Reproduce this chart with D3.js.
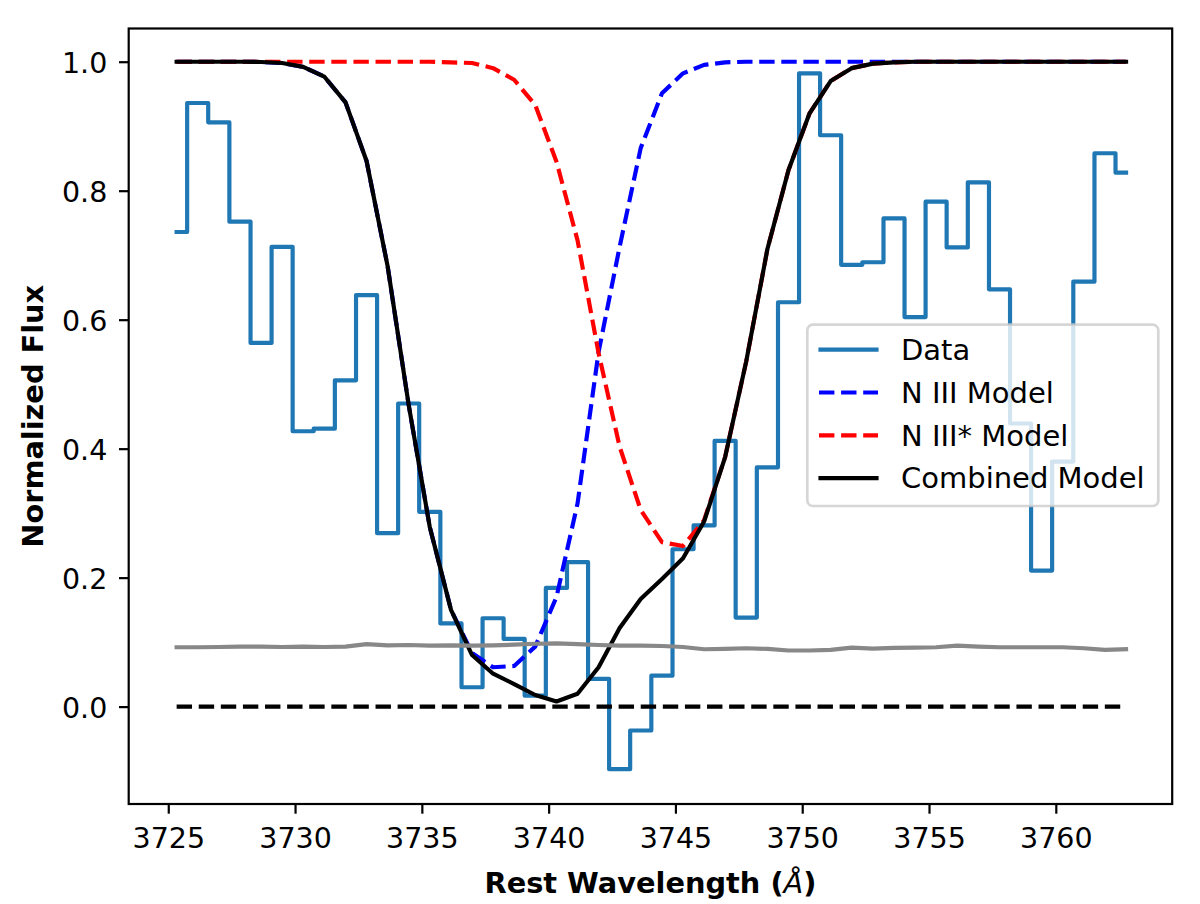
<!DOCTYPE html>
<html>
<head>
<meta charset="utf-8">
<script src="https://cdn.jsdelivr.net/npm/d3@7/dist/d3.min.js"></script>
<style>
    body { margin: 0; background: #ffffff; }
    svg { display: block; font-family: "DejaVu Sans", sans-serif; }
</style>
</head>
<body>
<div id="chart"></div>
<script>

// values
// values

var wavelength = [
    3725.33, 3726.16, 3726.99, 3727.83, 3728.66, 3729.49, 3730.32, 3731.15, 3731.99, 3732.82,
    3733.65, 3734.48, 3735.31, 3736.15, 3736.98, 3737.81, 3738.64, 3739.47, 3740.31, 3741.14,
    3741.97, 3742.80, 3743.63, 3744.47, 3745.30, 3746.13, 3746.96, 3747.79, 3748.63, 3749.46,
    3750.29, 3751.12, 3751.95, 3752.79, 3753.62, 3754.45, 3755.28, 3756.11, 3756.95, 3757.78,
    3758.61, 3759.44, 3760.27, 3761.11, 3761.94, 3762.77];

var fluxData = [
    0.736, 0.936, 0.906, 0.752, 0.564, 0.713, 0.427, 0.431, 0.506, 0.638,
    0.269, 0.470, 0.302, 0.129, 0.030, 0.137, 0.105, 0.017, 0.184, 0.224,
    0.043, -0.097, -0.037, 0.048, 0.244, 0.281, 0.412, 0.138, 0.371, 0.627,
    0.982, 0.886, 0.685, 0.689, 0.757, 0.604, 0.783, 0.712, 0.813, 0.647,
    0.439, 0.211, 0.380, 0.659, 0.858, 0.828];

var nIIIModel = [
    1.000, 1.000, 1.000, 1.000, 0.9995, 0.998, 0.992, 0.977, 0.937, 0.846,
    0.683, 0.468, 0.279, 0.150, 0.083, 0.061, 0.063, 0.093, 0.170, 0.315,
    0.550, 0.713, 0.866, 0.951, 0.982, 0.995, 0.999, 1.000, 1.000, 1.000,
    1.000, 1.000, 1.000, 1.000, 1.000, 1.000, 1.000, 1.000, 1.000, 1.000,
    1.000, 1.000, 1.000, 1.000, 1.000, 1.000];

var nIIIStarModel = [
    1.000, 1.000, 1.000, 1.000, 1.000, 1.000, 1.000, 1.000, 1.000, 1.000,
    1.000, 1.000, 1.000, 0.999, 0.998, 0.990, 0.972, 0.933, 0.845, 0.723,
    0.548, 0.403, 0.305, 0.255, 0.249, 0.289, 0.387, 0.535, 0.710, 0.832,
    0.920, 0.970, 0.990, 0.997, 0.999, 1.000, 1.000, 1.000, 1.000, 1.000,
    1.000, 1.000, 1.000, 1.000, 1.000, 1.000];

var combinedModel = [
    1.000, 1.000, 1.000, 1.000, 0.9995, 0.998, 0.992, 0.977, 0.937, 0.846,
    0.683, 0.468, 0.279, 0.150, 0.080, 0.051, 0.035, 0.018, 0.008, 0.020,
    0.061, 0.122, 0.167, 0.198, 0.230, 0.287, 0.387, 0.535, 0.710, 0.832,
    0.920, 0.970, 0.990, 0.997, 0.999, 1.000, 1.000, 1.000, 1.000, 1.000,
    1.000, 1.000, 1.000, 1.000, 1.000, 1.000];

var errorSpec = [
    0.092, 0.092, 0.0925, 0.093, 0.093, 0.0925, 0.093, 0.0925, 0.093, 0.097,
    0.095, 0.0955, 0.0945, 0.095, 0.0945, 0.095, 0.096, 0.0975, 0.098, 0.097,
    0.0955, 0.0945, 0.0945, 0.094, 0.0925, 0.089, 0.0895, 0.0905, 0.0895, 0.087,
    0.087, 0.088, 0.0915, 0.090, 0.091, 0.0915, 0.092, 0.0945, 0.093, 0.092,
    0.092, 0.092, 0.092, 0.0905, 0.088, 0.089];

var zeroLevel = [0, 0];

var xTicks = [3725, 3730, 3735, 3740, 3745, 3750, 3755, 3760];
var yTicks = [0.0, 0.2, 0.4, 0.6, 0.8, 1.0];

var xLimits = [3723.44, 3764.59];
var yLimits = [-0.151, 1.0515];

var legendLabels = ["Data", "N III Model", "N III* Model", "Combined Model"];

// chart
// chart

function spectrumChart()
{
    var margin = {top: 28.5, right: 27.8, bottom: 100, left: 128.7},
        width = 1200 - margin.left - margin.right,
        height = 904 - margin.top - margin.bottom,
        tickFont = 28.5,
        labelFont = 28.8,
        legendFont = 29,
        lineWidth = 4.17,
        dash = "15.4,6.7";

    var svg = d3.select("#chart").append("svg")
        .attr("width", 1200)
        .attr("height", 904);

    var g = svg.append("g")
        .attr("transform", "translate(" + margin.left + "," + margin.top + ")");

    var x = d3.scaleLinear().domain(xLimits).range([0, width]);
    var y = d3.scaleLinear().domain(yLimits).range([height, 0]);

    function series(values)
    {
        return values.map(function(v, i) { return [wavelength[i], v]; });
    }

    var line = d3.line()
        .x(function(d) { return x(d[0]); })
        .y(function(d) { return y(d[1]); });

    var stepLine = d3.line()
        .curve(d3.curveStep)
        .x(function(d) { return x(d[0]); })
        .y(function(d) { return y(d[1]); });

    // data as steps
    g.append("path")
        .attr("d", stepLine(series(fluxData)))
        .attr("fill", "none")
        .attr("stroke", "#1f77b4")
        .attr("stroke-width", lineWidth)
        .attr("stroke-linejoin", "round")
        .attr("stroke-linecap", "square");

    // models
    g.append("path")
        .attr("d", line(series(nIIIModel)))
        .attr("fill", "none")
        .attr("stroke", "#0000ff")
        .attr("stroke-width", lineWidth)
        .attr("stroke-dasharray", dash)
        .attr("stroke-linejoin", "round");

    g.append("path")
        .attr("d", line(series(nIIIStarModel)))
        .attr("fill", "none")
        .attr("stroke", "#ff0000")
        .attr("stroke-width", lineWidth)
        .attr("stroke-dasharray", dash)
        .attr("stroke-linejoin", "round");

    g.append("path")
        .attr("d", line(series(combinedModel)))
        .attr("fill", "none")
        .attr("stroke", "#000000")
        .attr("stroke-width", lineWidth)
        .attr("stroke-linejoin", "round")
        .attr("stroke-linecap", "square");

    // error spectrum and zero level
    g.append("path")
        .attr("d", line(series(errorSpec)))
        .attr("fill", "none")
        .attr("stroke", "#888888")
        .attr("stroke-width", lineWidth)
        .attr("stroke-linejoin", "round")
        .attr("stroke-linecap", "square");

    g.append("path")
        .attr("d", line([[wavelength[0], zeroLevel[0]], [wavelength[wavelength.length - 1], zeroLevel[1]]]))
        .attr("fill", "none")
        .attr("stroke", "#000000")
        .attr("stroke-width", lineWidth)
        .attr("stroke-dasharray", dash);

    // axes
    // axes

    var xAxis = g.append("g")
        .attr("transform", "translate(0," + height + ")")
        .call(d3.axisBottom(x).tickValues(xTicks).tickSize(9.7).tickSizeOuter(0).tickPadding(14.2)
            .tickFormat(d3.format("d")));

    var yAxis = g.append("g")
        .call(d3.axisLeft(y).tickValues(yTicks).tickSize(9.7).tickSizeOuter(0).tickPadding(11.7)
            .tickFormat(d3.format(".1f")));

    [xAxis, yAxis].forEach(function(a) {
        a.select(".domain").remove();
        a.selectAll("line").attr("stroke", "#000").attr("stroke-width", 2.2);
        a.selectAll("text")
            .attr("fill", "#000")
            .style("font-family", "'DejaVu Sans', sans-serif")
            .style("font-size", tickFont + "px");
    });
    yAxis.selectAll("text").attr("dy", "0.39em");

    // frame
    g.append("rect")
        .attr("width", width)
        .attr("height", height)
        .attr("fill", "none")
        .attr("stroke", "#000")
        .attr("stroke-width", 2.2);

    // axis labels
    var xLabel = svg.append("text")
        .attr("x", margin.left + width / 2)
        .attr("y", 893.3)
        .attr("text-anchor", "middle")
        .style("font-size", labelFont + "px")
        .style("font-weight", "bold");
    xLabel.append("tspan").text("Rest Wavelength (");
    xLabel.append("tspan").style("font-style", "italic").style("font-weight", "normal").text("Å");
    xLabel.append("tspan").text(")");

    svg.append("text")
        .attr("transform", "translate(43.3," + (margin.top + height / 2) + ") rotate(-90)")
        .attr("text-anchor", "middle")
        .style("font-size", labelFont + "px")
        .style("font-weight", "bold")
        .text("Normalized Flux");

    // legend
    // legend

    var legendStyles = [
        {color: "#1f77b4", dash: null},
        {color: "#0000ff", dash: dash},
        {color: "#ff0000", dash: dash},
        {color: "#000000", dash: null}
    ];

    var legend = svg.append("g");

    legend.append("rect")
        .attr("x", 807.3)
        .attr("y", 324.7)
        .attr("width", 351)
        .attr("height", 181.3)
        .attr("rx", 5.6)
        .attr("fill", "#ffffff")
        .attr("fill-opacity", 0.8)
        .attr("stroke", "#cccccc")
        .attr("stroke-opacity", 0.8)
        .attr("stroke-width", 2.7);

    legendLabels.forEach(function(label, i) {
        var cy = 349.7 + i * 42.8;
        var s = legendStyles[i];
        legend.append("line")
            .attr("x1", s.dash ? 819 : 820.5)
            .attr("x2", s.dash ? 878 : 876.5)
            .attr("y1", cy)
            .attr("y2", cy)
            .attr("stroke", s.color)
            .attr("stroke-width", lineWidth)
            .attr("stroke-dasharray", s.dash)
            .attr("stroke-linecap", s.dash ? "butt" : "square");
        legend.append("text")
            .attr("x", 901)
            .attr("y", cy + 10.3)
            .style("font-size", legendFont + "px")
            .text(label);
    });
}

spectrumChart();

</script>
</body>
</html>
